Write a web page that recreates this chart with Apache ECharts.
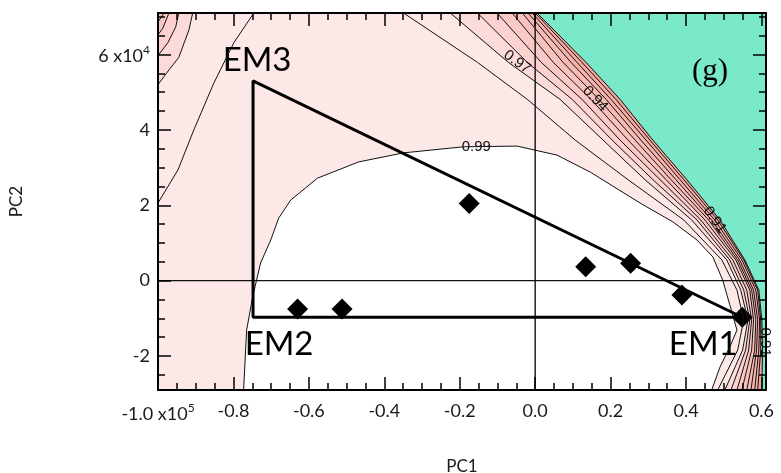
<!DOCTYPE html>
<html>
<head>
<meta charset="utf-8">
<script src="https://cdn.jsdelivr.net/npm/echarts@6/dist/echarts.min.js"></script>
<style>
  html, body { margin: 0; padding: 0; background: #ffffff; }
  #chart { width: 781px; height: 473px; }
</style>
</head>
<body>
<div id="chart"></div>
<script>
// PC scores are stored in thousands: PC1 ticks read in units of 1e5, PC2 in units of 1e4.

// Sample scores
const samplePC1 = [-63.0, -51.2, -17.5, 13.4, 25.3, 38.9, 54.9];
const samplePC2 = [-7.5, -7.5, 20.5, 3.7, 4.6, -3.8, -9.7];

// End-member vertices of the mixing triangle
const endMemberNames = ['EM1', 'EM2', 'EM3'];
const endMemberPC1 = [54.9, -74.8, -74.8];
const endMemberPC2 = [-9.7, -9.7, 53.0];

// Axis ticks
const xTicks = [-100, -80, -60, -40, -20, 0, 20, 40, 60];
const xMinorTicks = [-95, -90, -85, -75, -70, -65, -55, -50, -45, -35, -30, -25, -15, -10, -5, 5, 10, 15, 25, 30, 35, 45, 50, 55];
const yTicks = [-20, 0, 20, 40, 60];
const yMinorTicks = [-25, -15, -10, -5, 5, 10, 15, 25, 30, 35, 45, 50, 55, 65, 70];

// Goodness-of-fit contour 0.99 (encloses the well-fitted region)
const level099 = [[-77.3, -29.0], [-76.5, -13.1], [-74.9, -4.3], [-72.8, 4.7], [-70.1, 10.8], [-68.0, 16.6],
  [-64.8, 21.4], [-57.7, 27.2], [-46.8, 31.5], [-34.9, 33.9], [-19.1, 35.5], [-4.8, 35.7], [5.8, 33.3],
  [14.6, 28.8], [27.8, 20.6], [36.5, 15.6], [42.9, 10.8], [47.1, 6.3], [49.7, 0.2], [51.6, -6.4],
  [53.5, -13.1], [51.6, -17.6], [49.0, -22.9], [46.8, -29.0]];

// Upper-right contour family: PC1 positions read at these PC2 stations
const bandPC2 = [71.0, 57.9, 48.1, 37.3, 26.8, 16.1, 5.5, -2.5, -10.4, -18.4, -29.0];
const level098 = [-34.9, -15.3, -2.1, 10.6, 24.6, 39.4, 49.5, 53.5, 55.3, 53.7, 48.4];
const level097 = [-22.5, -7.1, 6.6, 18.0, 29.1, 41.5, 50.8, 54.5, 56.4, 55.0, 50.3];
const level096 = [-15.3, -2.1, 9.8, 20.4, 31.2, 42.9, 51.6, 55.3, 56.9, 55.8, 51.9];
const level095 = [-10.1, 1.6, 12.4, 22.5, 33.1, 43.9, 52.4, 56.1, 57.4, 56.6, 53.5];
const level094 = [-6.1, 4.8, 14.8, 24.6, 34.7, 45.0, 53.2, 56.9, 57.9, 57.4, 54.8];
const level093 = [-3.4, 7.4, 16.9, 26.5, 36.0, 46.0, 53.7, 57.4, 58.5, 58.2, 56.1];
const level092 = [-1.9, 9.5, 18.8, 28.0, 37.3, 46.8, 54.2, 57.9, 59.0, 58.7, 57.2];
const level091 = [-0.8, 11.1, 20.1, 29.4, 38.4, 47.6, 54.8, 58.5, 59.5, 59.3, 58.2];
const level090 = [0.0, 12.4, 21.4, 30.4, 39.4, 48.4, 55.3, 59.0, 59.8, 59.8, 59.0];
const invalidEdge = [0.5, 13.5, 22.5, 31.2, 40.2, 49.0, 55.6, 59.3, 60.1, 60.3, 60.1];

// Upper-left corner contours
const cornerLevel098 = [[-74.6, 71.0], [-79.9, 63.1], [-85.2, 52.4], [-90.5, 40.0], [-94.7, 29.4], [-100, 20.6]];
const cornerLevel097 = [[-90.8, 71.0], [-91.8, 66.5], [-94.5, 59.2], [-97.1, 55.9], [-100, 52.0]];
const cornerLevel096 = [[-94.5, 71.0], [-95.3, 67.3], [-97.4, 63.1], [-100, 59.7]];
const cornerLevel095 = [[-97.1, 71.0], [-98.7, 67.0], [-100, 65.2]];
const cornerLevel094 = [[-98.4, 71.0], [-100, 68.6]];

// Contour labels
const contourLabelText = ['0.99', '0.97', '0.94', '0.91', '0.91'];
const contourLabelPC1 = [-15.6, -4.8, 15.9, 47.6, 61.1];
const contourLabelPC2 = [35.4, 58.0, 48.2, 16.1, -16.3];

const X_MIN = -100, X_MAX = 61.2, Y_MIN = -29, Y_MAX = 71;
const FONT = 'Lato';
const INK = '#1a1a1a';

const toPairs = (xs) => xs.map((x, i) => [x, bandPC2[i]]);

function polygonSeries(points, fill) {
  return {
    type: 'custom',
    coordinateSystem: 'cartesian2d',
    silent: true,
    clip: true,
    data: [[points[0][0], points[0][1]]],
    renderItem: (params, api) => ({
      type: 'polygon',
      shape: { points: points.map(p => api.coord(p)) },
      style: { fill: fill, stroke: null }
    })
  };
}

function contourSeries(points, width) {
  return {
    type: 'line',
    data: points,
    symbol: 'none',
    silent: true,
    clip: true,
    lineStyle: { color: '#111', width: width || 1 }
  };
}

// Region beyond an upper-right line, closed through the right side of the plot
const beyondRight = (pts) => pts.concat([[X_MAX, Y_MIN], [X_MAX, Y_MAX]]);
// Region beyond a corner line, closed through the top-left corner
const beyondCorner = (pts) => pts.concat([[X_MIN, Y_MAX]]);

const rightFamily = [level098, level097, level096, level095, level094, level093, level092, level091, level090].map(toPairs);
const rightFills = [null, '#fcdcdb', '#fbd2d0', '#fac9c5', '#f9c1bc', '#f8bab4', '#f6b3ac', '#f4aca5', '#f1a59d'];
const cornerFamily = [cornerLevel098, cornerLevel097, cornerLevel096, cornerLevel095, cornerLevel094];
const cornerFills = [null, '#fcdada', '#fbd0ce', '#f9c6c2', '#f7bdb8'];

const series = [];
cornerFamily.forEach((pts, i) => { if (cornerFills[i]) series.push(polygonSeries(beyondCorner(pts), cornerFills[i])); });
series.push(polygonSeries(level099, '#ffffff'));
rightFamily.forEach((pts, i) => { if (rightFills[i]) series.push(polygonSeries(beyondRight(pts), rightFills[i])); });
series.push(polygonSeries(beyondRight(toPairs(invalidEdge)), '#7ae9c9'));

series.push(contourSeries(level099));
rightFamily.forEach(pts => series.push(contourSeries(pts)));
series.push(contourSeries(toPairs(invalidEdge)));
cornerFamily.forEach(pts => series.push(contourSeries(pts)));

// Zero lines
series.push(contourSeries([[X_MIN, 0], [X_MAX, 0]], 1.4));
series.push(contourSeries([[0, Y_MIN], [0, Y_MAX]], 1.4));

// Mixing triangle EM1 -> EM2 -> EM3 -> EM1
const triangle = [0, 1, 2, 0].map(i => [endMemberPC1[i], endMemberPC2[i]]);
series.push({
  type: 'line', data: triangle, symbol: 'none', silent: true,
  lineStyle: { color: '#000', width: 3 }
});

// Samples
series.push({
  type: 'scatter', symbol: 'diamond', symbolSize: 21, silent: true,
  itemStyle: { color: '#000', opacity: 1 },
  data: samplePC1.map((x, i) => [x, samplePC2[i]])
});

// End-member names
const emOffsets = [[-39, 27], [26, 27], [4, -21]];
series.push({
  type: 'scatter', symbolSize: 0, silent: true,
  itemStyle: { opacity: 1 },
  data: endMemberNames.map((n, i) => ({
    value: [endMemberPC1[i], endMemberPC2[i]],
    name: n,
    label: { offset: emOffsets[i] }
  })),
  label: {
    show: true, position: 'inside', formatter: p => p.name,
    fontFamily: FONT, fontSize: 33, color: '#000', opacity: 1
  }
});

// Contour level labels
const contourRotate = [0, -36, -46, -55, -90];
series.push({
  type: 'scatter', symbolSize: 0, silent: true,
  itemStyle: { opacity: 1 },
  data: contourLabelText.map((t, i) => ({
    value: [contourLabelPC1[i], contourLabelPC2[i]],
    name: t,
    label: { rotate: contourRotate[i] }
  })),
  label: {
    show: true, position: 'inside', formatter: p => p.name,
    fontFamily: 'Liberation Sans', fontSize: 15, color: '#111', opacity: 1
  }
});

const richText = {
  m: { fontFamily: FONT, fontSize: 18, color: INK, verticalAlign: 'bottom' },
  sup: { fontFamily: FONT, fontSize: 12, color: INK, padding: [0, 0, 9, 0] }
};

function xAxis(position, values, len, labels) {
  return {
    type: 'value', min: X_MIN, max: X_MAX, position: position, z: 10,
    axisLine: { show: len > 10, onZero: false, lineStyle: { color: '#000', width: 2 } },
    axisTick: { show: true, inside: true, length: len, customValues: values, lineStyle: { color: '#000', width: 1.5 } },
    axisLabel: labels ? {
      show: true, customValues: values, margin: 12,
      fontFamily: FONT, fontSize: 18, color: INK,
      formatter: v => v === -100 ? '{m|-1.0 x10}{sup|5}' : (v / 100).toFixed(1),
      rich: richText
    } : { show: false },
    splitLine: { show: false },
    name: labels ? 'PC1' : '', nameLocation: 'middle', nameGap: 68,
    nameTextStyle: { fontFamily: FONT, fontSize: 17, color: INK }
  };
}

function yAxis(position, values, len, labels) {
  return {
    type: 'value', min: Y_MIN, max: Y_MAX, position: position, z: 10,
    axisLine: { show: len > 10, onZero: false, lineStyle: { color: '#000', width: 2 } },
    axisTick: { show: true, inside: true, length: len, customValues: values, lineStyle: { color: '#000', width: 1.5 } },
    axisLabel: labels ? {
      show: true, customValues: values, margin: 8,
      fontFamily: FONT, fontSize: 18, color: INK,
      formatter: v => v === 60 ? '{m|6 x10}{sup|4}' : String(v / 10),
      rich: richText
    } : { show: false },
    splitLine: { show: false },
    name: labels ? 'PC2' : '', nameLocation: 'middle', nameGap: 133,
    nameTextStyle: { fontFamily: FONT, fontSize: 17, color: INK }
  };
}

const chart = echarts.init(document.getElementById('chart'), null, { renderer: 'canvas' });
chart.setOption({
  animation: false,
  backgroundColor: '#ffffff',
  grid: {
    left: 158, right: 15, top: 13, bottom: 83, show: true,
    backgroundColor: '#fde8e8', borderWidth: 0,
    containLabel: false, outerBoundsMode: 'none'
  },
  xAxis: [
    xAxis('bottom', xTicks, 13, true),
    xAxis('bottom', xMinorTicks, 7, false),
    xAxis('top', xTicks, 13, false),
    xAxis('top', xMinorTicks, 7, false)
  ],
  yAxis: [
    yAxis('left', yTicks, 13, true),
    yAxis('left', yMinorTicks, 7, false),
    yAxis('right', yTicks, 13, false),
    yAxis('right', yMinorTicks, 7, false)
  ],
  graphic: [{
    type: 'text', left: 692, top: 56, z: 20,
    style: { text: '(g)', font: '31px "Liberation Serif"', fill: '#000' }
  }],
  series: series
});
</script>
</body>
</html>
